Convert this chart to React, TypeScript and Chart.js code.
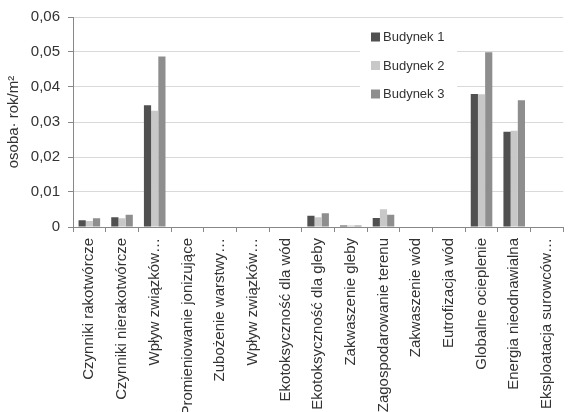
import React, { useEffect, useRef } from "react";
import { Chart, registerables } from "chart.js";

Chart.register(...registerables);

const categories = [
  "Czynniki rakotwórcze",
  "Czynniki nierakotwórcze",
  "Wpływ związków…",
  "Promieniowanie jonizujące",
  "Zubożenie warstwy…",
  "Wpływ związków…",
  "Ekotoksyczność dla wód",
  "Ekotoksyczność dla gleby",
  "Zakwaszenie gleby",
  "Zagospodarowanie terenu",
  "Zakwaszenie wód",
  "Eutrofizacja wód",
  "Globalne ocieplenie",
  "Energia nieodnawialna",
  "Eksploatacja surowców…",
];

const seriesNames = ["Budynek 1", "Budynek 2", "Budynek 3"];

const budynek1 = [0.0019, 0.0028, 0.0348, 0, 0, 0, 0, 0.0032, 0.0004, 0.0026, 0, 0, 0.038, 0.0272, 0];
const budynek2 = [0.0017, 0.0025, 0.0332, 0, 0, 0, 0, 0.0028, 0.0004, 0.0051, 0, 0, 0.0379, 0.0275, 0];
const budynek3 = [0.0025, 0.0035, 0.0487, 0, 0, 0, 0, 0.0039, 0.0004, 0.0035, 0, 0, 0.0499, 0.0362, 0];

const seriesColors = ["#505050", "#c8c8c8", "#8e8e8e"];

const yTicks = [0, 0.01, 0.02, 0.03, 0.04, 0.05, 0.06];

const FONT = "'Liberation Sans', Arial, sans-serif";
const TEXT = "#333333";

// Legend drawn inside the plot area, on a white panel over the grid lines
const insideLegend = {
  id: "insideLegend",
  afterDatasetsDraw(chart: any) {
    const { ctx, chartArea } = chart;
    const x0 = chartArea.left + 287;
    const y0 = chartArea.top + 3;
    ctx.save();
    ctx.fillStyle = "#ffffff";
    ctx.fillRect(x0, y0, 97, 79);
    ctx.font = `13px ${FONT}`;
    ctx.textBaseline = "middle";
    ctx.textAlign = "left";
    chart.data.datasets.forEach((ds: any, i: number) => {
      const cy = y0 + 17 + i * 28.5;
      ctx.fillStyle = ds.backgroundColor;
      ctx.fillRect(x0 + 11, cy - 4.5, 9, 9);
      ctx.fillStyle = TEXT;
      ctx.fillText(ds.label, x0 + 23, cy + 0.5);
    });
    ctx.restore();
  },
};

export default function App() {
  const canvasRef = useRef<HTMLCanvasElement | null>(null);

  useEffect(() => {
    if (!canvasRef.current) return;
    const data = [budynek1, budynek2, budynek3];
    const chart = new Chart(canvasRef.current, {
      type: "bar",
      data: {
        labels: categories,
        datasets: seriesNames.map((name, i) => ({
          label: name,
          data: data[i],
          backgroundColor: seriesColors[i],
          borderWidth: 0,
          categoryPercentage: 0.66,
          barPercentage: 1,
        })),
      },
      options: {
        responsive: false,
        animation: false,
        devicePixelRatio: 1,
        layout: { padding: { left: 0, top: 15, right: 3, bottom: 0 } },
        plugins: {
          legend: { display: false },
          tooltip: { enabled: false },
        },
        scales: {
          x: {
            offset: true,
            grid: {
              offset: true,
              drawOnChartArea: false,
              drawTicks: true,
              tickLength: 5,
              tickColor: "#888888",
            },
            border: { color: "#888888", width: 1 },
            ticks: {
              autoSkip: false,
              maxRotation: 90,
              minRotation: 90,
              padding: 6,
              color: TEXT,
              font: { family: FONT, size: 15 },
            },
            afterFit: (scale: any) => {
              scale.height = 185;
            },
          },
          y: {
            min: 0,
            max: 0.06,
            afterBuildTicks: (scale: any) => {
              scale.ticks = yTicks.map((v) => ({ value: v }));
            },
            grid: {
              color: "#d9d9d9",
              tickColor: "#888888",
              tickLength: 5,
            },
            border: { color: "#888888", width: 1 },
            ticks: {
              padding: 8,
              color: TEXT,
              font: { family: FONT, size: 15 },
              callback: (v: any) =>
                Number(v) === 0 ? "0" : Number(v).toFixed(2).replace(".", ","),
            },
            title: {
              display: true,
              text: "osoba· rok/m²",
              color: TEXT,
              font: { family: FONT, size: 15 },
              padding: { top: 5, bottom: 0 },
            },
            afterFit: (scale: any) => {
              scale.width = 73;
            },
          },
        },
      },
      plugins: [insideLegend],
    });
    return () => chart.destroy();
  }, []);

  return (
    <div style={{ position: "absolute", left: 0, top: 0, width: 571, height: 412, background: "#ffffff" }}>
      <canvas ref={canvasRef} width={571} height={412} />
    </div>
  );
}
